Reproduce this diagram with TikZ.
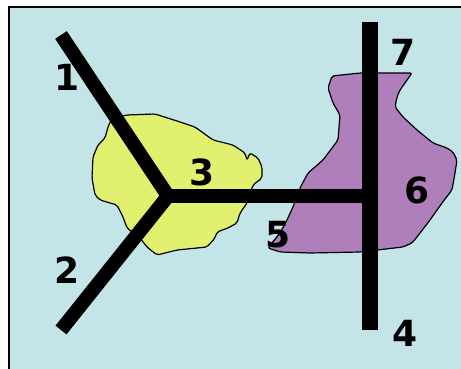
\documentclass[tikz,border=0pt]{standalone}
\usepackage{fontspec}
\setmainfont{DejaVu Sans}
\definecolor{sky}{HTML}{C4E5E7}
\definecolor{lemon}{HTML}{E2F070}
\definecolor{plum}{HTML}{AE7FBA}
\tikzset{
  digit/.style={font=\bfseries\fontsize{36}{36}\selectfont, inner sep=0pt},
  blob/.style={draw=black, line width=1.2pt, rounded corners=2pt},
  bar/.style={line width=14pt, line join=miter}
}
\begin{document}
\begin{tikzpicture}[x=1pt,y=-1pt]
\clip (0,0) rectangle (461,369);
\fill[white] (0,0) rectangle (461,369);
\draw[fill=sky, line width=1.2pt] (9,7) rectangle (480,390);

\draw[blob, fill=lemon] (112,118) -- (127,115) -- (155,114) -- (177,121) -- (195,127)
  -- (213,140) -- (233,145) -- (245,153) -- (247,160) -- (250,153) -- (258,158)
  -- (262,167) -- (262,178) -- (253,185) -- (247,203) -- (240,213) -- (237,223)
  -- (228,228) -- (217,232) -- (215,238) -- (207,247) -- (177,250) -- (157,255)
  -- (147,247) -- (140,238) -- (127,228) -- (123,217) -- (117,205) -- (100,200)
  -- (95,195) -- (92,178) -- (93,157) -- (98,145) -- (105,138) -- (108,127) -- cycle;

\draw[blob, fill=plum] (332,76) -- (360,73) -- (412,73) -- (400,90) -- (397,97)
  -- (395,107) -- (403,117) -- (417,130) -- (433,143) -- (447,148) -- (453,152)
  -- (457,160) -- (455,173) -- (452,190) -- (442,203) -- (430,220) -- (417,237)
  -- (412,243) -- (403,247) -- (360,252) -- (310,253) -- (280,252) -- (268,248)
  -- (280,233) -- (287,220) -- (293,207) -- (300,188) -- (308,173) -- (323,160)
  -- (338,140) -- (340,115) -- (333,103) -- (328,88) -- cycle;

\coordinate (e1) at (61,35);
\coordinate (e2) at (61,330);
\coordinate (jn) at (168,196);
\coordinate (top) at (370,22);
\coordinate (bot) at (370,330);
\coordinate (mid) at (370,196);

\draw[bar] (e1) -- (jn) -- (e2);
\draw[bar] (jn) -- (mid);
\draw[bar, line width=16pt] (top) -- (bot);

\node[digit] (n1) at (67,77) {1};
\node[digit] (n2) at (67,270) {2};
\node[digit] (n3) at (202,172) {3};
\node[digit] (n4) at (405,333) {4};
\node[digit] (n5) at (278,235) {5};
\node[digit] (n6) at (417,190) {6};
\node[digit] (n7) at (403,52) {7};
\end{tikzpicture}
\end{document}
